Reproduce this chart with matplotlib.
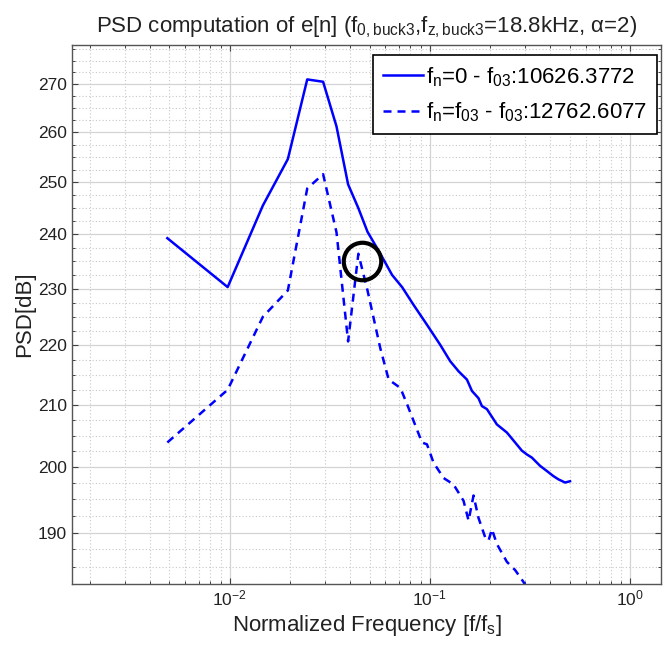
import matplotlib
matplotlib.use("Agg")
import matplotlib.pyplot as plt
from matplotlib.ticker import NullFormatter, LogLocator

plt.rcParams['font.family'] = ['Liberation Sans', 'DejaVu Sans']
plt.rcParams['mathtext.fontset'] = 'custom'
plt.rcParams['mathtext.rm'] = 'Liberation Sans'
plt.rcParams['mathtext.it'] = 'Liberation Sans'
plt.rcParams['mathtext.bf'] = 'Liberation Sans:bold'

# PSD of e[n], f_n = 0 (solid)
f_solid = [0.00488, 0.00977, 0.01465, 0.01953, 0.02441, 0.0293, 0.03418, 0.03906,
           0.04395, 0.04883, 0.0566, 0.0648, 0.0727, 0.0830, 0.0968, 0.1128,
           0.1265, 0.1392, 0.1533, 0.1624, 0.1751, 0.1821, 0.1929, 0.2164,
           0.2427, 0.2669, 0.2884, 0.3054, 0.3235, 0.3557, 0.3842, 0.4145,
           0.4389, 0.4741, 0.502]
psd_solid = [239.3, 230.3, 245.5, 254.6, 271.0, 270.5, 261.2, 249.6,
             245.0, 240.5, 236.4, 232.5, 230.3, 227.1, 223.6, 220.1,
             217.3, 215.6, 214.2, 212.3, 211.1, 209.8, 209.3, 206.8,
             205.5, 203.9, 202.6, 202.0, 201.5, 200.2, 199.4, 198.6,
             198.1, 197.6, 197.8]

# PSD of e[n], f_n = f03 (dashed)
f_dashed = [0.00488, 0.00977, 0.01465, 0.01953, 0.02441, 0.0293, 0.03418, 0.03906,
            0.04395, 0.04883, 0.0566, 0.0623, 0.0713, 0.0770, 0.0914, 0.0968,
            0.1044, 0.1172, 0.1314, 0.1474, 0.1562, 0.1654, 0.1751, 0.1891,
            0.1965, 0.2043, 0.2164, 0.2427, 0.2669, 0.2936, 0.32]
psd_dashed = [203.9, 212.5, 225.0, 229.7, 248.8, 251.6, 240.4, 220.7,
              236.4, 229.7, 219.5, 214.2, 212.8, 210.1, 203.9, 203.6,
              200.7, 198.3, 197.3, 194.8, 191.8, 195.6, 192.2, 189.3,
              188.8, 190.5, 188.3, 185.7, 184.5, 182.8, 181.0]

# highlighted point
circle_f = 0.0457
circle_db = 235.0

legend_labels = [r'$f_n$=0 - $f_{03}$:10626.3772',
                 r'$f_n$=$f_{03}$ - $f_{03}$:12762.6077']

y_major = [190, 200, 210, 220, 230, 240, 250, 260, 270]
y_minor = [182.5, 185, 187.5, 192.5, 195, 197.5, 202.5, 205, 207.5, 212.5, 215, 217.5,
           222.5, 225, 227.5, 232.5, 235, 237.5, 242.5, 245, 247.5, 252.5, 255, 257.5,
           262.5, 265, 267.5, 272.5, 275, 277.5]

fig = plt.figure(figsize=(6.65, 6.47), dpi=100)
ax = fig.add_axes([0.1083, 0.0974, 0.8857, 0.833])

ax.plot(f_solid, psd_solid, '-', color='blue', lw=1.8, label=legend_labels[0])
ax.plot(f_dashed, psd_dashed, '--', color='blue', lw=1.8, dashes=(3.2, 2.4),
        label=legend_labels[1])
ax.plot([circle_f], [circle_db], 'o', mfc='none', mec='black', ms=27, mew=3)

ax.set_xscale('log')
ax.set_yscale('log')
ax.set_xlim(0.00163, 1.43)
ax.set_ylim(182.9, 278.4)

ax.set_xticks([0.01, 0.1, 1.0])
ax.set_xticklabels([r'$10^{-2}$', r'$10^{-1}$', r'$10^{0}$'])
ax.xaxis.set_minor_locator(LogLocator(base=10, subs=range(2, 10)))
ax.xaxis.set_minor_formatter(NullFormatter())

ax.set_yticks(y_major)
ax.set_yticklabels([str(v) for v in y_major])
ax.set_yticks(y_minor, minor=True)
ax.yaxis.set_minor_formatter(NullFormatter())

ax.grid(True, which='major', color='#d4d4d4', lw=0.9, ls='-')
ax.grid(True, which='minor', color='#c8c8c8', lw=0.8, ls=(0, (1, 2)))
ax.set_axisbelow(True)

ax.tick_params(which='both', direction='in', top=True, right=True, colors='#404040',
               labelcolor='#222222', labelsize=12.5)
ax.tick_params(which='major', length=4, width=0.8)
ax.tick_params(which='minor', length=2.5, width=0.7)
for s in ax.spines.values():
    s.set_color('#555555')
    s.set_linewidth(1.0)

ax.set_xlabel(r'Normalized Frequency [f/$f_s$]', fontsize=16, color='#222222', labelpad=3)
ax.set_ylabel('PSD[dB]', fontsize=16, color='#222222', labelpad=2)
ax.set_title(r'PSD computation of e[n] ($f_{0,buck3}$,$f_{z,buck3}$=18.8kHz, α=2)',
             fontsize=16, color='#222222', pad=9)

leg = ax.legend(loc='upper right', bbox_to_anchor=(0.9932, 0.9814), borderaxespad=0,
                fontsize=16, handlelength=1.8, handletextpad=0.15, fancybox=False,
                framealpha=1, edgecolor='black', borderpad=0.45, labelspacing=0.55)
leg.get_frame().set_linewidth(1.2)

fig.savefig('out.png', dpi=100)
